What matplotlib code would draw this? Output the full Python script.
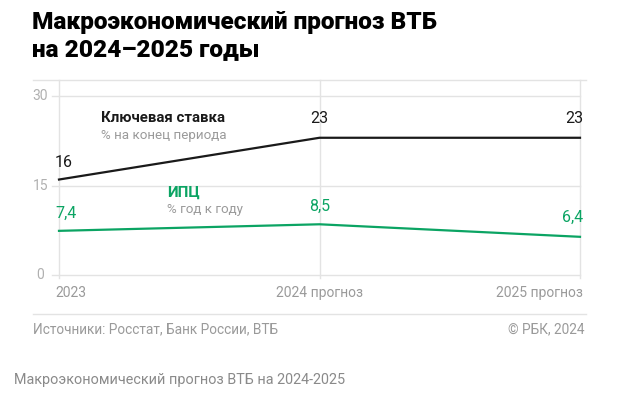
import matplotlib
matplotlib.use("Agg")
import matplotlib.pyplot as plt
from matplotlib.lines import Line2D

plt.rcParams['font.family'] = ['Roboto', 'DejaVu Sans']

# данные
periods = ['2023', '2024 прогноз', '2025 прогноз']
key_rate = [16, 23, 23]
cpi = [7.4, 8.5, 6.4]
key_rate_labels = ['16', '23', '23']
cpi_labels = ['7,4', '8,5', '6,4']
y_ticks = [0, 15, 30]

GREEN = '#0ba463'
GRAY = '#9a9a9a'
GRID = '#e3e3e3'

W, H = 639, 398
fig = plt.figure(figsize=(W / 100, H / 100), dpi=100)

def fx(px):
    return px / W

def fy(py):
    return 1 - py / H

# область графика: x 59..580, y 0 -> 275px, 30 -> 96px
ax = fig.add_axes([fx(59), fy(275), fx(580) - fx(59), fy(80) - fy(275)])
y_top = 30 * (275 - 80) / (275 - 96)
ax.set_ylim(0, y_top)
ax.set_xlim(0, len(periods) - 1)

x = list(range(len(periods)))
ax.plot(x, key_rate, color='#1a1a1a', lw=1.6, solid_joinstyle='round', zorder=3, clip_on=False)
ax.plot(x, cpi, color=GREEN, lw=1.6, solid_joinstyle='round', zorder=3, clip_on=False)

for s in ax.spines.values():
    s.set_visible(False)
ax.set_xticks([])
ax.set_yticks([])

# горизонтальная сетка
for v in y_ticks:
    ax.axhline(v, color=GRID, lw=1, zorder=1, xmin=-0.013, xmax=1, clip_on=False)
    ax.text(-0.036, v, str(v), transform=ax.get_yaxis_transform(), ha='center', va='center',
            fontsize=10, color='#b0b0b0')
# вертикальные линии
for xi in x:
    ax.plot([xi, xi], [-0.5, y_top], color=GRID, lw=1, zorder=1, clip_on=False)

# подписи по оси X
aligns = ['left', 'center', 'right']
offs = [-4, 0, 3]
for xi, lab, al, o in zip(x, periods, aligns, offs):
    ax.annotate(lab, (xi, 0), xytext=(o, -18), textcoords='offset pixels', ha=al, va='center',
                fontsize=10, color=GRAY)

# значения
kr_off = [(-4, 17), (0, 19), (3, 19)]
cpi_off = [(-4, 18), (0, 18), (3, 19)]
for xi, v, lab, al, o in zip(x, key_rate, key_rate_labels, aligns, kr_off):
    ax.annotate(lab, (xi, v), xytext=o, textcoords='offset pixels', ha=al, va='center',
                fontsize=11.5, color='#1a1a1a')
for xi, v, lab, al, o in zip(x, cpi, cpi_labels, aligns, cpi_off):
    ax.annotate(lab, (xi, v), xytext=o, textcoords='offset pixels', ha=al, va='center',
                fontsize=11.5, color=GREEN)

# подписи рядов
fig.text(fx(101), fy(118), 'Ключевая ставка', fontsize=10.8, fontweight='bold', color='#1a1a1a', va='center')
fig.text(fx(101), fy(135), '% на конец периода', fontsize=9.6, color=GRAY, va='center')
fig.text(fx(167), fy(193), 'ИПЦ', fontsize=10.8, fontweight='bold', color=GREEN, va='center')
fig.text(fx(167), fy(209), '% год к году', fontsize=9.6, color=GRAY, va='center')

# заголовок
fig.text(fx(32), fy(22), 'Макроэкономический прогноз ВТБ', fontsize=17.6, fontweight='heavy',
         color='black', va='center')
fig.text(fx(32), fy(50), 'на 2024–2025 годы', fontsize=17.6, fontweight='heavy',
         color='black', va='center')

# разделители
fig.add_artist(Line2D([fx(33), fx(586)], [fy(80), fy(80)], color=GRID, lw=1))
fig.add_artist(Line2D([fx(33), fx(586)], [fy(314), fy(314)], color=GRID, lw=1))

fig.text(fx(33), fy(329), 'Источники: Росстат, Банк России, ВТБ', fontsize=9.8, color=GRAY, va='center')
fig.text(fx(584), fy(329), '© РБК, 2024', fontsize=9.8, color=GRAY, va='center', ha='right')
fig.text(fx(14), fy(380), 'Макроэкономический прогноз ВТБ на 2024-2025', fontsize=10.4,
         color='#8a8a8a', va='center')

fig.savefig('out.png', dpi=100, facecolor='white')
